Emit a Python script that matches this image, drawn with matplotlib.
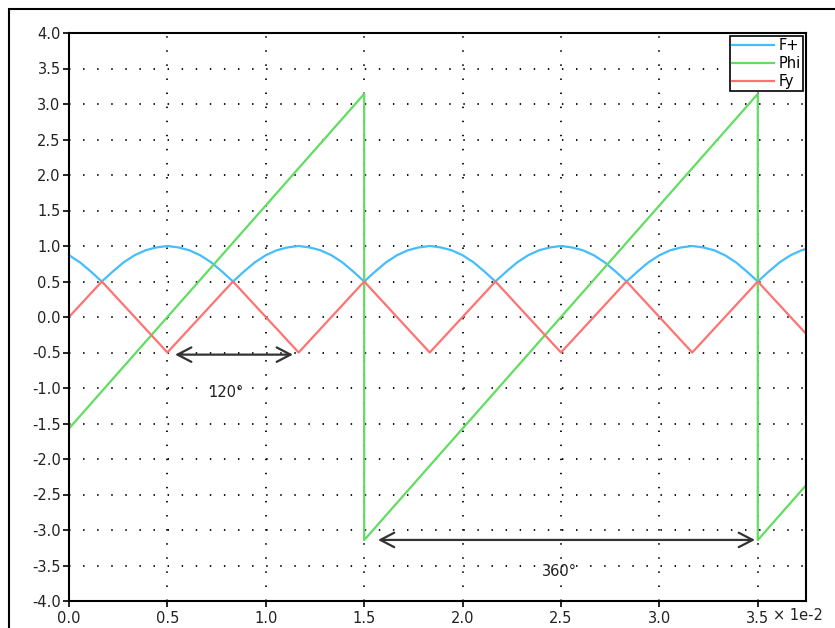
import numpy as np
import matplotlib
matplotlib.use("Agg")
import matplotlib.pyplot as plt
from matplotlib.patches import Rectangle

# time axis in units of 1e-2 s, F+ sampled every 1/18 unit (10 deg of the arc)
fp_x = np.arange(69) / 18.0
fp_y = [0.87, 0.77, 0.64,
        0.50, 0.64, 0.77, 0.87, 0.94, 0.98, 1.00, 0.98, 0.94, 0.87, 0.77, 0.64,
        0.50, 0.64, 0.77, 0.87, 0.94, 0.98, 1.00, 0.98, 0.94, 0.87, 0.77, 0.64,
        0.50, 0.64, 0.77, 0.87, 0.94, 0.98, 1.00, 0.98, 0.94, 0.87, 0.77, 0.64,
        0.50, 0.64, 0.77, 0.87, 0.94, 0.98, 1.00, 0.98, 0.94, 0.87, 0.77, 0.64,
        0.50, 0.64, 0.77, 0.87, 0.94, 0.98, 1.00, 0.98, 0.94, 0.87, 0.77, 0.64,
        0.50, 0.64, 0.77, 0.87, 0.94, 0.98]

# Phi sawtooth corners
phi_x = [0.0, 1.5, 1.5, 3.5, 3.5, 3.833]
phi_y = [-1.571, 3.142, -3.142, 3.142, -3.142, -2.094]

# Fy triangle corners
fy_x = [0.0, 0.167, 0.5, 0.833, 1.167, 1.5, 1.833, 2.167, 2.5, 2.833, 3.167, 3.5, 3.833]
fy_y = [0.0, 0.5, -0.5, 0.5, -0.5, 0.5, -0.5, 0.5, -0.5, 0.5, -0.5, 0.5, -0.5]

xticks = [0.0, 0.5, 1.0, 1.5, 2.0, 2.5, 3.0, 3.5]
yticks = np.arange(-4.0, 4.01, 0.5)

c_fp = '#45bdfc'
c_phi = '#62dc62'
c_fy = '#ff7272'

fs = 10.5

fig = plt.figure(figsize=(8.35, 6.28), dpi=100)
ax = fig.add_axes([69 / 835, 1 - 601 / 628, (806 - 69) / 835, (601 - 33) / 628])

ax.plot(fp_x, fp_y, color=c_fp, lw=1.6, label='F+')
ax.plot(phi_x, phi_y, color=c_phi, lw=1.6, label='Phi')
ax.plot(fy_x, fy_y, color=c_fy, lw=1.6, label='Fy')

ax.set_xlim(0, 3.745)
ax.set_ylim(-4.0, 4.0)
ax.set_xticks(xticks)
ax.set_xticklabels([f'{v:.1f}' for v in xticks])
ax.set_yticks(yticks)
ax.set_yticklabels([f'{v:.1f}' for v in yticks])
ax.tick_params(direction='out', length=4, width=1.2, labelsize=fs, pad=2,
               labelcolor='#222222')
ax.tick_params(axis='x', pad=3)

ax.grid(True, color='k', lw=1.3, linestyle=(0, (0.8, 7)))
for s in ax.spines.values():
    s.set_linewidth(1.5)

# angle markers
arrow = dict(arrowstyle='<->,head_length=0.5,head_width=0.26', color='#333333',
             lw=1.6, mutation_scale=20, shrinkA=0, shrinkB=0)
ax.annotate('', xy=(0.539, -0.53), xytext=(1.138, -0.53), arrowprops=arrow)
ax.text(0.80, -1.07, '120°', ha='center', va='center', fontsize=fs, color='#222222')
ax.annotate('', xy=(1.57, -3.14), xytext=(3.486, -3.14), arrowprops=arrow)
ax.text(2.49, -3.58, '360°', ha='center', va='center', fontsize=fs, color='#222222')

leg = ax.legend(loc='upper right', fontsize=fs, handlelength=2.9, handletextpad=0.3,
                borderpad=0.15, labelspacing=0.2, borderaxespad=0.2,
                fancybox=False, framealpha=1)
leg.get_frame().set_edgecolor('k')
leg.get_frame().set_linewidth(1.2)

fig.text(773 / 835, 1 - 616 / 628, '× 1e-2', fontsize=fs, ha='left', va='center',
         color='#222222')

# outer frame, cut off at right and bottom like the screenshot
fig.patches.append(Rectangle((8.5 / 835, -0.2), 1.2, 1.2 - 8.5 / 628,
                             transform=fig.transFigure, fill=False,
                             edgecolor='k', lw=1.5))

fig.savefig('out.png', dpi=100)
